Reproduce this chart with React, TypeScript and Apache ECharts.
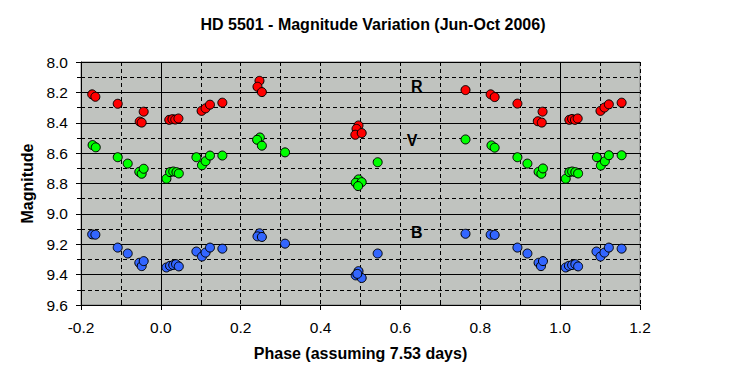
import React, { useEffect, useRef } from "react";
import * as echarts from "echarts";

const rPhase = [-0.172, -0.164, -0.108, -0.043, -0.053, -0.048, 0.021, 0.029, 0.036, 0.044, 0.102, 0.112, 0.123, 0.154, 0.247, 0.242, 0.253, 0.495, 0.49, 0.487, 0.503, 0.763, 0.826, 0.836, 0.893, 0.956, 0.944, 0.954, 1.023, 1.03, 1.037, 1.044, 1.101, 1.111, 1.122, 1.154];
const rMag = [8.213, 8.229, 8.275, 8.327, 8.392, 8.399, 8.381, 8.376, 8.379, 8.372, 8.322, 8.305, 8.281, 8.268, 8.124, 8.163, 8.198, 8.418, 8.44, 8.479, 8.468, 8.185, 8.213, 8.231, 8.274, 8.327, 8.39, 8.399, 8.381, 8.375, 8.381, 8.372, 8.322, 8.3, 8.279, 8.268];

const vPhase = [-0.171, -0.163, -0.108, -0.083, -0.054, -0.048, -0.043, 0.014, 0.023, 0.031, 0.039, 0.045, 0.089, 0.103, 0.112, 0.123, 0.154, 0.248, 0.241, 0.253, 0.311, 0.495, 0.488, 0.503, 0.494, 0.543, 0.763, 0.828, 0.836, 0.893, 0.918, 0.946, 0.953, 0.957, 1.014, 1.023, 1.03, 1.038, 1.045, 1.092, 1.102, 1.112, 1.122, 1.154];
const vMag = [8.547, 8.562, 8.627, 8.669, 8.723, 8.736, 8.703, 8.769, 8.725, 8.721, 8.725, 8.734, 8.627, 8.68, 8.653, 8.616, 8.616, 8.497, 8.512, 8.551, 8.595, 8.773, 8.795, 8.791, 8.817, 8.66, 8.51, 8.549, 8.564, 8.627, 8.669, 8.723, 8.736, 8.701, 8.769, 8.725, 8.721, 8.725, 8.734, 8.627, 8.682, 8.654, 8.614, 8.614];

const bPhase = [-0.172, -0.164, -0.108, -0.083, -0.054, -0.048, -0.043, 0.014, 0.023, 0.031, 0.038, 0.045, 0.089, 0.103, 0.112, 0.123, 0.154, 0.247, 0.242, 0.253, 0.311, 0.543, 0.495, 0.488, 0.503, 0.492, 0.763, 0.826, 0.836, 0.893, 0.918, 0.946, 0.952, 0.957, 1.014, 1.022, 1.03, 1.038, 1.045, 1.091, 1.101, 1.111, 1.122, 1.154];
const bMag = [9.135, 9.137, 9.222, 9.261, 9.322, 9.344, 9.311, 9.353, 9.342, 9.337, 9.331, 9.346, 9.248, 9.281, 9.255, 9.222, 9.229, 9.128, 9.148, 9.152, 9.196, 9.261, 9.377, 9.405, 9.422, 9.395, 9.131, 9.137, 9.139, 9.222, 9.261, 9.322, 9.344, 9.311, 9.353, 9.342, 9.337, 9.331, 9.346, 9.248, 9.281, 9.255, 9.222, 9.229];

const bandNames = ["R", "V", "B"];
const bandLabelPhase = [0.641, 0.629, 0.641];
const bandLabelMag = [8.161, 8.515, 9.122];

const FONT = "Liberation Sans, Arial, sans-serif";

function zip(xs: number[], ys: number[]) {
  return xs.map((x, i) => [x, ys[i]]);
}

export default function App() {
  const ref = useRef<HTMLDivElement>(null);
  useEffect(() => {
    const chart = echarts.init(ref.current!, null, { renderer: "svg" });
    const markerStyle = (c: string) => ({ color: c, borderColor: "#000", borderWidth: 1, opacity: 1 });
    chart.setOption({
      animation: false,
      backgroundColor: "#ffffff",
      title: {
        text: "HD 5501 - Magnitude Variation (Jun-Oct 2006)",
        left: "center",
        top: 11,
        textStyle: { fontFamily: FONT, fontSize: 16, fontWeight: "bold", color: "#000" },
      },
      grid: {
        left: 81,
        right: 106,
        top: 62,
        bottom: 78,
        show: true,
        backgroundColor: "#c0c3bf",
        borderColor: "#808080",
        borderWidth: 1,
      },
      xAxis: [
        {
          type: "value",
          min: -0.2,
          max: 1.2,
          interval: 0.2,
          name: "Phase (assuming 7.53 days)",
          nameLocation: "middle",
          nameGap: 40,
          nameTextStyle: { fontFamily: FONT, fontSize: 16, fontWeight: "bold", color: "#000" },
          axisLine: { show: true, onZero: false, lineStyle: { color: "#000", width: 1 } },
          axisTick: { show: true, length: 5, lineStyle: { color: "#000" } },
          axisLabel: {
            fontFamily: FONT,
            fontSize: 15.5,
            color: "#000",
            margin: 14,
            formatter: (v: number) => v.toFixed(1),
          },
          splitLine: { show: true, lineStyle: { color: "#000", type: [4, 3], width: 1 } },
          minorSplitLine: { show: true, lineStyle: { color: "#000", type: [4, 3], width: 1 } },
          minorTick: { show: false, splitNumber: 2 },
        },
        {
          type: "value",
          min: -0.2,
          max: 1.2,
          interval: 0.2,
          position: "bottom",
          axisLine: { show: false, onZero: false },
          axisTick: { show: false, inside: true },
          axisLabel: { show: false },
          splitLine: { show: false },
          minorTick: { show: true, splitNumber: 2, length: 4, lineStyle: { color: "#000" } },
        },
      ],
      yAxis: {
        type: "value",
        inverse: true,
        min: 8.0,
        max: 9.6,
        interval: 0.2,
        name: "Magnitude",
        nameLocation: "middle",
        nameGap: 46,
        nameTextStyle: { fontFamily: FONT, fontSize: 16, fontWeight: "bold", color: "#000" },
        axisLine: { show: true, onZero: false, lineStyle: { color: "#000", width: 1 } },
        axisTick: { show: true, length: 5, lineStyle: { color: "#000" } },
        minorTick: { show: true, splitNumber: 2, length: 4, lineStyle: { color: "#000" } },
        axisLabel: {
          fontFamily: FONT,
          fontSize: 15.5,
          color: "#000",
          margin: 13,
          formatter: (v: number) => v.toFixed(1),
        },
        splitLine: { show: true, lineStyle: { color: "#000", width: 1 } },
        minorSplitLine: { show: true, lineStyle: { color: "#000", type: [4, 3], width: 1 } },
      },
      series: [
        {
          type: "scatter",
          name: "R",
          data: zip(rPhase, rMag),
          symbol: "circle",
          symbolSize: 9,
          itemStyle: markerStyle("#ff0000"),
          markLine: {
            silent: true,
            symbol: "none",
            label: { show: false },
            lineStyle: { color: "#000", type: "solid", width: 1 },
            data: [{ xAxis: 0 }, { xAxis: 1 }],
          },
          z: 3,
        },
        {
          type: "scatter",
          name: "V",
          data: zip(vPhase, vMag),
          symbol: "circle",
          symbolSize: 9,
          itemStyle: markerStyle("#00ff00"),
          z: 3,
        },
        {
          type: "scatter",
          name: "B",
          data: zip(bPhase, bMag),
          symbol: "circle",
          symbolSize: 9,
          itemStyle: markerStyle("#3366ff"),
          z: 3,
        },
        {
          type: "scatter",
          name: "labels",
          symbolSize: 1,
          itemStyle: { opacity: 1, color: "rgba(0,0,0,0)" },
          data: bandNames.map((n, i) => ({ value: [bandLabelPhase[i], bandLabelMag[i]], name: n })),
          label: {
            show: true,
            position: "inside",
            formatter: (p: any) => p.name,
            fontFamily: FONT,
            fontSize: 16,
            fontWeight: "bold",
            color: "#000",
            opacity: 1,
            textBorderWidth: 0,
          },
          silent: true,
          z: 4,
        },
      ],
    });
    return () => chart.dispose();
  }, []);
  return (
    <div
      ref={ref}
      style={{ position: "fixed", left: 0, top: 0, width: 746, height: 383 }}
    />
  );
}
